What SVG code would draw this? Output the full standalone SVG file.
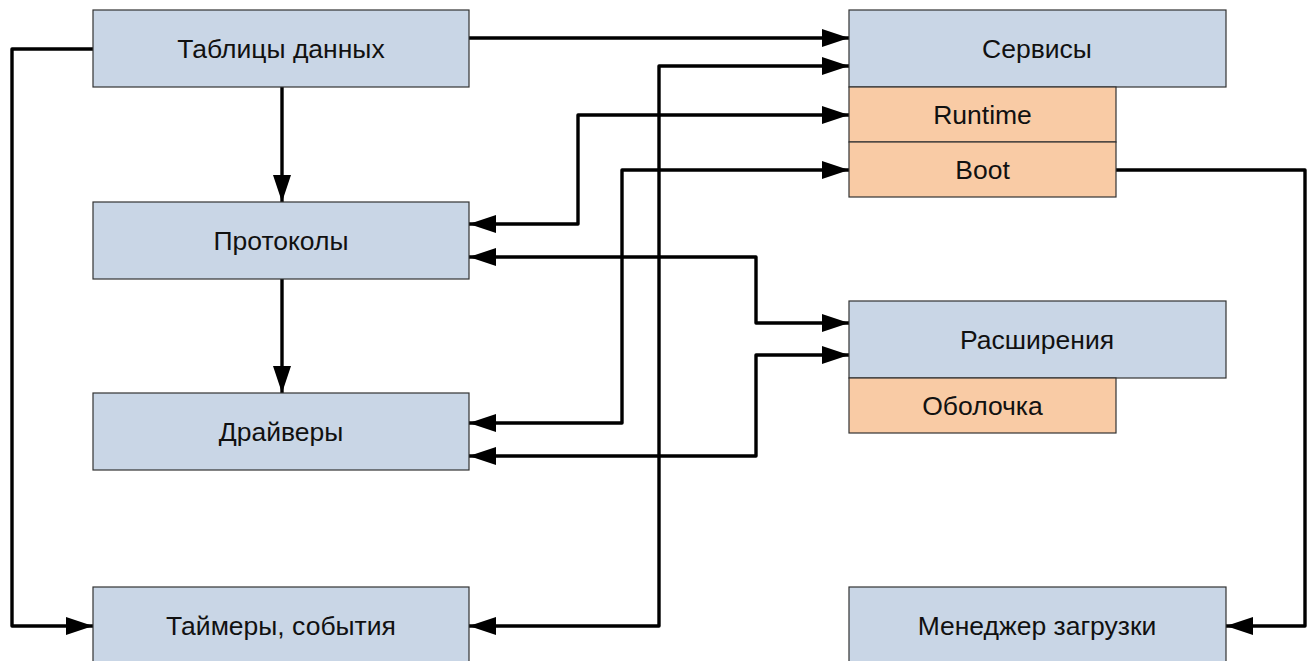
<svg xmlns="http://www.w3.org/2000/svg" width="1314" height="661" viewBox="0 0 1314 661">
<defs>
<marker id="arr" viewBox="0 0 27 18" refX="27" refY="9" markerWidth="27" markerHeight="18" markerUnits="userSpaceOnUse" orient="auto-start-reverse">
<path d="M0,0 L27,9 L0,18 z" fill="#000"/>
</marker>
<style>
.b{fill:#C9D6E6;stroke:#333;stroke-width:1.2}
.o{fill:#F9CBA5;stroke:#333;stroke-width:1.2}
.t{font-family:"Liberation Sans",Arial,sans-serif;font-size:26.5px;fill:#111;text-anchor:middle;dominant-baseline:central}
.c{fill:none;stroke:#000;stroke-width:3.4;stroke-linejoin:round}
</style>
</defs>
<rect width="1314" height="661" fill="#fff"/>
<g id="connectors">
<path class="c" d="M93,49 H12 V626 H93" marker-end="url(#arr)"/>
<path class="c" d="M469,38 H849" marker-end="url(#arr)"/>
<path class="c" d="M282,87 V202" marker-end="url(#arr)"/>
<path class="c" d="M282,279 V393" marker-end="url(#arr)"/>
<path class="c" d="M469,626 H659 V66 H849" marker-start="url(#arr)" marker-end="url(#arr)"/>
<path class="c" d="M469,224 H578 V115 H849" marker-start="url(#arr)" marker-end="url(#arr)"/>
<path class="c" d="M469,423 H622 V170 H849" marker-start="url(#arr)" marker-end="url(#arr)"/>
<path class="c" d="M469,257 H756 V323 H849" marker-start="url(#arr)" marker-end="url(#arr)"/>
<path class="c" d="M469,456 H756 V355 H849" marker-start="url(#arr)" marker-end="url(#arr)"/>
<path class="c" d="M1116,170 H1305 V626 H1226" marker-end="url(#arr)"/>
</g>
<g id="tables"><rect class="b" x="93" y="10" width="376" height="77"/><text class="t" x="281" y="48.5">Таблицы данных</text></g>
<g id="protocols"><rect class="b" x="93" y="202" width="376" height="77"/><text class="t" x="281" y="240.5">Протоколы</text></g>
<g id="drivers"><rect class="b" x="93" y="393" width="376" height="77"/><text class="t" x="281" y="431.5">Драйверы</text></g>
<g id="timers"><rect class="b" x="93" y="587" width="376" height="77"/><text class="t" x="281" y="626">Таймеры, события</text></g>
<g id="services"><rect class="b" x="849" y="10" width="377" height="77"/><text class="t" x="1037" y="48.5">Сервисы</text></g>
<g id="runtime"><rect class="o" x="849" y="87" width="267" height="55"/><text class="t" x="982.5" y="114.5">Runtime</text></g>
<g id="boot"><rect class="o" x="849" y="142" width="267" height="55"/><text class="t" x="982.5" y="169.5">Boot</text></g>
<g id="extensions"><rect class="b" x="849" y="301" width="377" height="77"/><text class="t" x="1037" y="339.5">Расширения</text></g>
<g id="shell"><rect class="o" x="849" y="378" width="267" height="55"/><text class="t" x="982.5" y="405.5">Оболочка</text></g>
<g id="bootmgr"><rect class="b" x="849" y="587" width="377" height="77"/><text class="t" x="1037" y="626">Менеджер загрузки</text></g>
</svg>
